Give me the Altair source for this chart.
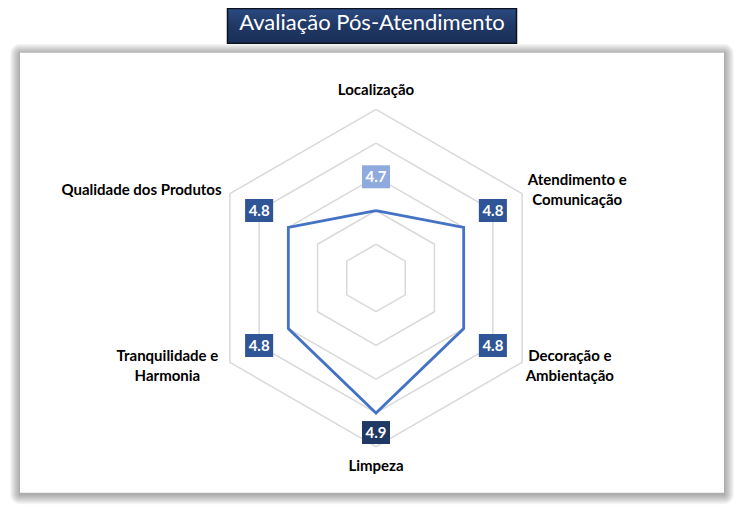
import altair as alt
import pandas as pd

# ---- data ----
categories = ["Localização", "Atendimento e\nComunicação", "Decoração e\nAmbientação",
              "Limpeza", "Tranquilidade e\nHarmonia", "Qualidade dos Produtos"]
scores = [4.7, 4.8, 4.8, 4.9, 4.8, 4.8]
score_labels = ["4.7", "4.8", "4.8", "4.9", "4.8", "4.8"]
grid_levels = [4.6, 4.7, 4.8, 4.9, 5.0]
scale_min, scale_max = 4.5, 5.0
title_text = "Avaliação Pós-Atendimento"

# ---- geometry (plot px) ----
W, H = 728, 497
CX, CY = 368, 270
R = 168.7
N = len(categories)
FONT = "Lato"
LINE_H = 20

xs = alt.Scale(domain=[-CX, W - CX], nice=False, zero=False)
ys = alt.Scale(domain=[-(H - CY), CY], nice=False, zero=False)
X = alt.X("px:Q", scale=xs, axis=None)
Y = alt.Y("py:Q", scale=ys, axis=None)

radius_expr = f"(datum.v - {scale_min}) / ({scale_max} - {scale_min}) * {R}"


def polar(ch):
    return ch.transform_calculate(
        ang=f"datum.k * 2 * PI / {N}",
        rr=radius_expr,
    ).transform_calculate(
        px="datum.rr * sin(datum.ang)",
        py="datum.rr * cos(datum.ang)",
    )


# grid rings
ring_rows = []
for lv in grid_levels:
    for i in range(N + 1):
        ring_rows.append({"level": lv, "idx": i, "k": i % N, "v": lv})
rings = polar(alt.Chart(pd.DataFrame(ring_rows))).mark_line(
    color="#D9D9D9", strokeWidth=1.5
).encode(x=X, y=Y, detail="level:N", order="idx:Q")

# data polygon
poly_rows = [{"idx": i, "k": i % N, "v": scores[i % N]} for i in range(N + 1)]
poly = polar(alt.Chart(pd.DataFrame(poly_rows))).mark_line(
    color="#4472C4", strokeWidth=2.8, strokeJoin="miter"
).encode(x=X, y=Y, order="idx:Q")

# value label boxes
val_df = pd.DataFrame({"k": list(range(N)), "score": scores, "lab": score_labels})
val_base = alt.Chart(val_df).transform_calculate(
    v="min(datum.score + 0.1, 4.958)"
)
val_base = polar(val_base)
box_shape = "M-1.22,-1L1.22,-1L1.22,1L-1.22,1Z"
boxes = val_base.mark_point(shape=box_shape, size=529, filled=True, opacity=1, strokeWidth=0).encode(
    x=X, y=Y,
    color=alt.Color("lab:N", scale=alt.Scale(domain=["4.7", "4.8", "4.9"],
                                             range=["#8FAADC", "#2F5597", "#203864"]), legend=None),
)
box_text = val_base.mark_text(font=FONT, fontWeight="bold", fontSize=15, color="white",
                              baseline="middle", dy=0.5).encode(x=X, y=Y, text="lab:N")

# category labels
maxlen = [max(len(s) for s in c.split("\n")) for c in categories]
nlines = [len(c.split("\n")) for c in categories]
cat_df = pd.DataFrame({"k": list(range(N)), "cat": categories, "maxlen": maxlen,
                       "nl": nlines, "v": [scale_max] * N})
cat_labels = polar(alt.Chart(cat_df)).transform_calculate(
    sx="datum.px > 1 ? 1 : (datum.px < -1 ? -1 : 0)",
    sy="datum.py > 0 ? 1 : -1",
).transform_calculate(
    lx="datum.sx == 0 ? 0 : datum.px + datum.sx * (7 + datum.maxlen * 3.7)",
    ly=f"(datum.sx == 0 ? datum.py + datum.sy * 19 : datum.py + datum.sy * 4) + (datum.nl - 1) * {LINE_H} / 2",
).mark_text(font=FONT, fontWeight="bold", fontSize=15, color="#000000", align="center",
            baseline="middle", lineBreak="\n", lineHeight=LINE_H).encode(
    x=alt.X("lx:Q", scale=xs, axis=None), y=alt.Y("ly:Q", scale=ys, axis=None), text="cat:N"
)

# ---- decorations ----
one = pd.DataFrame({"d": [0]})
shadows = []
for s in range(1, 11):
    shadows.append(
        alt.Chart(one).mark_rect(color="black", opacity=0.035, cornerRadius=s).encode(
            x=alt.value(12 - s), x2=alt.value(716 + s),
            y=alt.value(44.7 - s + 1), y2=alt.value(484.7 + s + 1.5)
        )
    )
panel = alt.Chart(one).mark_rect(color="white").encode(
    x=alt.value(12), x2=alt.value(716), y=alt.value(44.7), y2=alt.value(484.7)
)
title_grad = alt.Gradient(
    gradient="linear",
    stops=[alt.GradientStop(color="#2C4A82", offset=0),
           alt.GradientStop(color="#1F3864", offset=0.5),
           alt.GradientStop(color="#1A2F57", offset=1)],
    x1=0, x2=0, y1=0, y2=1,
)
title_box = alt.Chart(one).mark_rect(fill=title_grad, stroke="#0B1220", strokeWidth=1.5).encode(
    x=alt.value(219.5), x2=alt.value(508.5), y=alt.value(0.5), y2=alt.value(35.3)
)
title = alt.Chart(one).mark_text(text=title_text, font=FONT, fontSize=22, color="white",
                                 align="center", baseline="middle").encode(
    x=alt.value(364), y=alt.value(15)
)

chart = alt.layer(
    *shadows, panel, title_box, title, rings, poly, boxes, box_text, cat_labels
).properties(
    width=W, height=H, padding=0, autosize=alt.AutoSizeParams(type="none"), background="white"
).configure_view(stroke=None)

chart.save("out.html", embed_options={"renderer": "svg", "actions": False})
